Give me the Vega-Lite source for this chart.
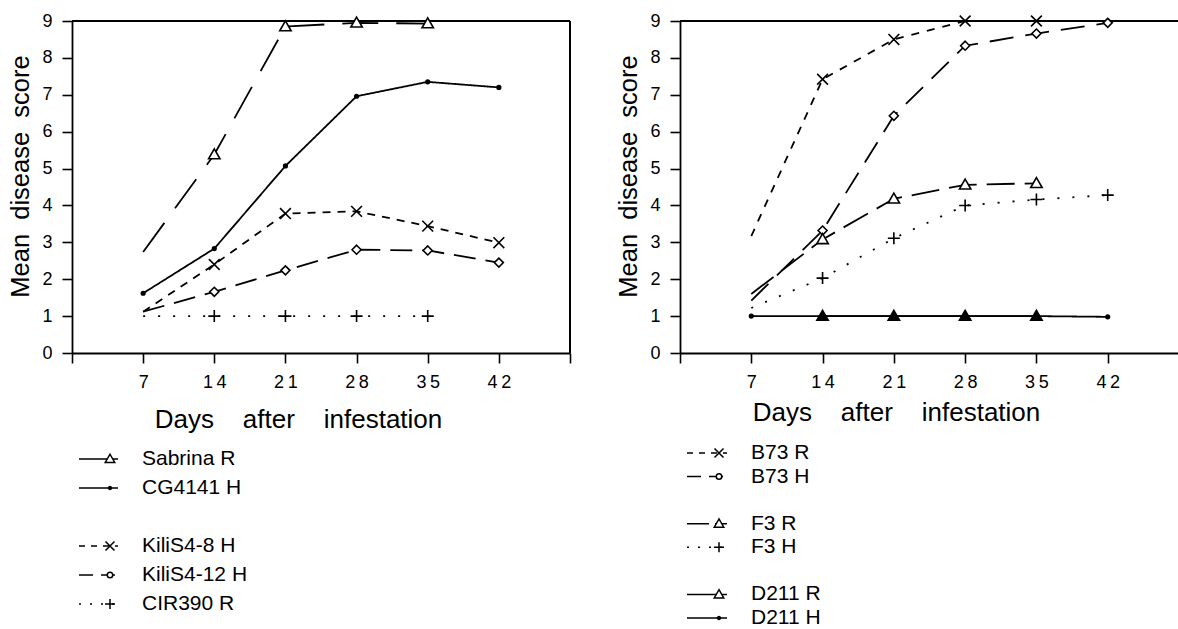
{
  "$schema": "https://vega.github.io/schema/vega-lite/v6.json",
  "padding": {"left": 8, "top": 12, "right": 0, "bottom": 0},
  "config": {
    "font": "Liberation Sans",
    "view": {"stroke": null},
    "axis": {
      "grid": false,
      "domainColor": "black",
      "domainWidth": 1.8,
      "tickColor": "black",
      "tickWidth": 1.6,
      "labelColor": "black",
      "titleColor": "black",
      "titleFontWeight": "normal",
      "labelFont": "Liberation Sans",
      "titleFont": "Liberation Sans"
    }
  },
  "resolve": {"scale": {"strokeDash": "independent", "shape": "independent", "fill": "independent"}},
  "datasets": {
    "left": [
      {"series": "Sabrina R", "day": 7, "score": 2.74},
      {"series": "Sabrina R", "day": 14, "score": 5.38},
      {"series": "Sabrina R", "day": 21, "score": 8.85},
      {"series": "Sabrina R", "day": 28, "score": 8.95},
      {"series": "Sabrina R", "day": 35, "score": 8.93},
      {"series": "CG4141 H", "day": 7, "score": 1.62},
      {"series": "CG4141 H", "day": 14, "score": 2.83},
      {"series": "CG4141 H", "day": 21, "score": 5.07},
      {"series": "CG4141 H", "day": 28, "score": 6.96},
      {"series": "CG4141 H", "day": 35, "score": 7.35},
      {"series": "CG4141 H", "day": 42, "score": 7.2},
      {"series": "KiliS4-8 H", "day": 7, "score": 1.12},
      {"series": "KiliS4-8 H", "day": 14, "score": 2.4},
      {"series": "KiliS4-8 H", "day": 21, "score": 3.78},
      {"series": "KiliS4-8 H", "day": 28, "score": 3.84},
      {"series": "KiliS4-8 H", "day": 35, "score": 3.44},
      {"series": "KiliS4-8 H", "day": 42, "score": 2.99},
      {"series": "KiliS4-12 H", "day": 7, "score": 1.12},
      {"series": "KiliS4-12 H", "day": 14, "score": 1.66},
      {"series": "KiliS4-12 H", "day": 21, "score": 2.24},
      {"series": "KiliS4-12 H", "day": 28, "score": 2.8},
      {"series": "KiliS4-12 H", "day": 35, "score": 2.78},
      {"series": "KiliS4-12 H", "day": 42, "score": 2.45},
      {"series": "CIR390 R", "day": 7, "score": 1.0},
      {"series": "CIR390 R", "day": 14, "score": 1.0},
      {"series": "CIR390 R", "day": 21, "score": 1.0},
      {"series": "CIR390 R", "day": 28, "score": 1.0},
      {"series": "CIR390 R", "day": 35, "score": 1.0}
    ],
    "right": [
      {"series": "B73 R", "day": 7, "score": 3.17},
      {"series": "B73 R", "day": 14, "score": 7.42},
      {"series": "B73 R", "day": 21, "score": 8.5},
      {"series": "B73 R", "day": 28, "score": 9.0},
      {"series": "B73 R", "day": 35, "score": 9.0},
      {"series": "B73 H", "day": 7, "score": 1.42},
      {"series": "B73 H", "day": 14, "score": 3.32},
      {"series": "B73 H", "day": 21, "score": 6.43},
      {"series": "B73 H", "day": 28, "score": 8.33},
      {"series": "B73 H", "day": 35, "score": 8.66},
      {"series": "B73 H", "day": 42, "score": 8.95},
      {"series": "F3 R", "day": 7, "score": 1.6},
      {"series": "F3 R", "day": 14, "score": 3.08},
      {"series": "F3 R", "day": 21, "score": 4.18},
      {"series": "F3 R", "day": 28, "score": 4.56},
      {"series": "F3 R", "day": 35, "score": 4.6},
      {"series": "F3 H", "day": 7, "score": 1.22},
      {"series": "F3 H", "day": 14, "score": 2.03},
      {"series": "F3 H", "day": 21, "score": 3.11},
      {"series": "F3 H", "day": 28, "score": 4.0},
      {"series": "F3 H", "day": 35, "score": 4.16},
      {"series": "F3 H", "day": 42, "score": 4.28},
      {"series": "D211 R", "day": 14, "score": 1.0},
      {"series": "D211 R", "day": 21, "score": 1.0},
      {"series": "D211 R", "day": 28, "score": 1.0},
      {"series": "D211 R", "day": 35, "score": 1.0},
      {"series": "D211 H", "day": 7, "score": 1.0},
      {"series": "D211 H", "day": 14, "score": 1.0},
      {"series": "D211 H", "day": 21, "score": 1.0},
      {"series": "D211 H", "day": 28, "score": 1.0},
      {"series": "D211 H", "day": 35, "score": 1.0},
      {"series": "D211 H", "day": 42, "score": 0.98}
    ]
  },
  "spacing": 45,
  "hconcat": [
    {
      "spacing": 16,
      "resolve": {"scale": {"strokeDash": "independent", "shape": "independent", "fill": "independent"}},
      "vconcat": [
        {
          "width": 498,
          "height": 332,
          "data": {"name": "left"},
          "layer": [
            {
              "mark": {"type": "rule", "color": "black", "strokeWidth": 1.8},
              "encoding": {"y": {"datum": 9, "type": "quantitative"}}
            },
            {
              "mark": {"type": "rule", "color": "black", "strokeWidth": 1.8},
              "encoding": {"x": {"datum": 49, "type": "quantitative"}}
            },
            {
              "mark": {"type": "line", "color": "black", "strokeWidth": 1.8},
              "encoding": {
                "x": {
                  "field": "day", "type": "quantitative",
                  "scale": {"domain": [0, 49], "nice": false, "zero": false},
                  "axis": {
                    "values": [0, 7, 14, 21, 28, 35, 42, 49],
                    "tickCount": 40,
                    "format": "d",
                    "labelExpr": "datum.value == 0 || datum.value == 49 ? '' : join(split(datum.label, ''), '\u2009')",
                    "labelOverlap": false,
                    "tickSize": 10,
                    "labelPadding": 10,
                    "labelFontSize": 18,
                    "title": "Days\u00a0\u00a0\u00a0\u00a0after\u00a0\u00a0\u00a0\u00a0infestation",
                    "titleFontSize": 26,
                    "titlePadding": 15,
                    "titleX": 226
                  }
                },
                "y": {
                  "field": "score", "type": "quantitative",
                  "scale": {"domain": [0, 9], "nice": false},
                  "axis": {
                    "values": [0, 0.5, 1, 1.5, 2, 2.5, 3, 3.5, 4, 4.5, 5, 5.5, 6, 6.5, 7, 7.5, 8, 8.5, 9],
                    "tickCount": 40,
                    "format": "d",
                    "labelExpr": "datum.value % 1 == 0 ? datum.label : ''",
                    "labelOverlap": false,
                    "tickSize": {"condition": {"test": "datum.value % 1 == 0", "value": 10}, "value": 5},
                    "labelPadding": 10,
                    "labelFontSize": 18,
                    "title": "Mean\u00a0\u00a0disease\u00a0\u00a0score",
                    "titleFontSize": 25.5,
                    "titlePadding": 8,
                    "titleY": 155
                  }
                },
                "detail": {"field": "series"},
                "strokeDash": {
                  "field": "series", "type": "nominal", "legend": null,
                  "scale": {
                    "domain": ["Sabrina R", "CG4141 H", "KiliS4-8 H", "KiliS4-12 H", "CIR390 R"],
                    "range": [[36, 18], [1, 0], [8, 7], [22, 10], [2, 13]]
                  }
                }
              }
            },
            {
              "transform": [{"filter": "datum.day > 7 || datum.series == 'CG4141 H'"}],
              "mark": {"type": "point", "stroke": "black", "strokeWidth": 1.6, "opacity": 1, "size": 144},
              "encoding": {
                "x": {"field": "day", "type": "quantitative"},
                "y": {"field": "score", "type": "quantitative"},
                "shape": {
                  "field": "series", "type": "nominal", "legend": null,
                  "scale": {
                    "domain": ["Sabrina R", "CG4141 H", "KiliS4-8 H", "KiliS4-12 H", "CIR390 R"],
                    "range": [
                      "M0,-0.95L0.95,0.7L-0.95,0.7Z",
                      "M-0.3,0A0.3,0.3 0 1,0 0.3,0A0.3,0.3 0 1,0 -0.3,0Z",
                      "M-0.9,-0.9L0.9,0.9M-0.9,0.9L0.9,-0.9",
                      "M0,-0.75L0.75,0L0,0.75L-0.75,0Z",
                      "M-1,0L1,0M0,-1L0,1"
                    ]
                  }
                },
                "fill": {
                  "field": "series", "type": "nominal", "legend": null,
                  "scale": {
                    "domain": ["Sabrina R", "CG4141 H", "KiliS4-8 H", "KiliS4-12 H", "CIR390 R"],
                    "range": ["white", "black", "white", "white", "white"]
                  }
                }
              }
            }
          ]
        },
        {
          "width": 400,
          "height": 145,
          "data": {"name": "left"},
          "transform": [{"aggregate": [{"op": "count", "as": "n"}], "groupby": ["series"]}],
          "encoding": {
            "y": {
              "field": "series", "type": "nominal", "axis": null,
              "scale": {"type": "point", "padding": 0, "domain": ["Sabrina R", "CG4141 H", " ", "KiliS4-8 H", "KiliS4-12 H", "CIR390 R"]}
            }
          },
          "layer": [
            {
              "mark": {"type": "rule", "color": "black", "strokeWidth": 1.6},
              "encoding": {
                "x": {"datum": 0.175, "type": "quantitative", "axis": null, "scale": {"domain": [0, 10], "nice": false}},
                "x2": {"datum": 1.15},
                "strokeDash": {
                  "field": "series", "type": "nominal", "legend": null,
                  "scale": {
                    "domain": ["Sabrina R", "CG4141 H", "KiliS4-8 H", "KiliS4-12 H", "CIR390 R"],
                    "range": [[1, 0], [1, 0], [6, 6], [14, 8], [2, 9]]
                  }
                }
              }
            },
            {
              "mark": {"type": "point", "stroke": "black", "strokeWidth": 1.5, "opacity": 1, "size": 100},
              "encoding": {
                "x": {"datum": 0.95, "type": "quantitative"},
                "shape": {
                  "field": "series", "type": "nominal", "legend": null,
                  "scale": {
                    "domain": ["Sabrina R", "CG4141 H", "KiliS4-8 H", "KiliS4-12 H", "CIR390 R"],
                    "range": [
                      "M0,-0.95L0.95,0.7L-0.95,0.7Z",
                      "M-0.3,0A0.3,0.3 0 1,0 0.3,0A0.3,0.3 0 1,0 -0.3,0Z",
                      "M-0.9,-0.9L0.9,0.9M-0.9,0.9L0.9,-0.9",
                      "M-0.55,0A0.55,0.55 0 1,0 0.55,0A0.55,0.55 0 1,0 -0.55,0Z",
                      "M-1,0L1,0M0,-1L0,1"
                    ]
                  }
                },
                "fill": {
                  "field": "series", "type": "nominal", "legend": null,
                  "scale": {
                    "domain": ["Sabrina R", "CG4141 H", "KiliS4-8 H", "KiliS4-12 H", "CIR390 R"],
                    "range": ["white", "black", "white", "white", "white"]
                  }
                }
              }
            },
            {
              "mark": {"type": "text", "align": "left", "baseline": "middle", "fontSize": 21, "color": "black"},
              "encoding": {
                "x": {"datum": 1.75, "type": "quantitative"},
                "text": {"field": "series"}
              }
            }
          ]
        }
      ]
    },
    {
      "spacing": 17,
      "resolve": {"scale": {"strokeDash": "independent", "shape": "independent", "fill": "independent"}},
      "vconcat": [
        {
          "width": 499,
          "height": 332,
          "data": {"name": "right"},
          "layer": [
            {
              "mark": {"type": "rule", "color": "black", "strokeWidth": 1.8},
              "encoding": {"y": {"datum": 9, "type": "quantitative"}}
            },
            {
              "mark": {"type": "line", "color": "black", "strokeWidth": 1.8},
              "encoding": {
                "x": {
                  "field": "day", "type": "quantitative",
                  "scale": {"domain": [0, 49], "nice": false, "zero": false},
                  "axis": {
                    "values": [0, 7, 14, 21, 28, 35, 42],
                    "tickCount": 40,
                    "format": "d",
                    "labelExpr": "datum.value == 0 ? '' : join(split(datum.label, ''), '\u2009')",
                    "labelOverlap": false,
                    "tickSize": 10,
                    "labelPadding": 10,
                    "labelFontSize": 18,
                    "title": "Days\u00a0\u00a0\u00a0\u00a0after\u00a0\u00a0\u00a0\u00a0infestation",
                    "titleFontSize": 26,
                    "titlePadding": 8,
                    "titleX": 216
                  }
                },
                "y": {
                  "field": "score", "type": "quantitative",
                  "scale": {"domain": [0, 9], "nice": false},
                  "axis": {
                    "values": [0, 0.5, 1, 1.5, 2, 2.5, 3, 3.5, 4, 4.5, 5, 5.5, 6, 6.5, 7, 7.5, 8, 8.5, 9],
                    "tickCount": 40,
                    "format": "d",
                    "labelExpr": "datum.value % 1 == 0 ? datum.label : ''",
                    "labelOverlap": false,
                    "tickSize": {"condition": {"test": "datum.value % 1 == 0", "value": 10}, "value": 5},
                    "labelPadding": 10,
                    "labelFontSize": 18,
                    "title": "Mean\u00a0\u00a0disease\u00a0\u00a0score",
                    "titleFontSize": 25.5,
                    "titlePadding": 8,
                    "titleY": 155
                  }
                },
                "detail": {"field": "series"},
                "strokeDash": {
                  "field": "series", "type": "nominal", "legend": null,
                  "scale": {
                    "domain": ["B73 R", "B73 H", "F3 R", "F3 H", "D211 R", "D211 H"],
                    "range": [[8, 8], [24, 12], [28, 10], [2, 13], [1, 0], [1, 0]]
                  }
                }
              }
            },
            {
              "transform": [{"filter": "datum.day > 7 || datum.series == 'D211 H'"}],
              "mark": {"type": "point", "stroke": "black", "strokeWidth": 1.6, "opacity": 1, "size": 144},
              "encoding": {
                "x": {"field": "day", "type": "quantitative"},
                "y": {"field": "score", "type": "quantitative"},
                "shape": {
                  "field": "series", "type": "nominal", "legend": null,
                  "scale": {
                    "domain": ["B73 R", "B73 H", "F3 R", "F3 H", "D211 R", "D211 H"],
                    "range": [
                      "M-0.9,-0.9L0.9,0.9M-0.9,0.9L0.9,-0.9",
                      "M0,-0.75L0.75,0L0,0.75L-0.75,0Z",
                      "M0,-0.95L0.95,0.7L-0.95,0.7Z",
                      "M-1,0L1,0M0,-1L0,1",
                      "M0,-0.95L0.95,0.7L-0.95,0.7Z",
                      "M-0.3,0A0.3,0.3 0 1,0 0.3,0A0.3,0.3 0 1,0 -0.3,0Z"
                    ]
                  }
                },
                "fill": {
                  "field": "series", "type": "nominal", "legend": null,
                  "scale": {
                    "domain": ["B73 R", "B73 H", "F3 R", "F3 H", "D211 R", "D211 H"],
                    "range": ["white", "white", "white", "white", "black", "black"]
                  }
                }
              }
            }
          ]
        },
        {
          "width": 400,
          "height": 165,
          "data": {"name": "right"},
          "transform": [{"aggregate": [{"op": "count", "as": "n"}], "groupby": ["series"]}],
          "encoding": {
            "y": {
              "field": "series", "type": "nominal", "axis": null,
              "scale": {"type": "point", "padding": 0, "domain": ["B73 R", "B73 H", " ", "F3 R", "F3 H", "  ", "D211 R", "D211 H"]}
            }
          },
          "layer": [
            {
              "mark": {"type": "rule", "color": "black", "strokeWidth": 1.6},
              "encoding": {
                "x": {"datum": 0.175, "type": "quantitative", "axis": null, "scale": {"domain": [0, 10], "nice": false}},
                "x2": {"datum": 1.175},
                "strokeDash": {
                  "field": "series", "type": "nominal", "legend": null,
                  "scale": {
                    "domain": ["B73 R", "B73 H", "F3 R", "F3 H", "D211 R", "D211 H"],
                    "range": [[6, 6], [14, 8], [22, 6], [2, 9], [1, 0], [1, 0]]
                  }
                }
              }
            },
            {
              "mark": {"type": "point", "stroke": "black", "strokeWidth": 1.5, "opacity": 1, "size": 100},
              "encoding": {
                "x": {"datum": 0.975, "type": "quantitative"},
                "shape": {
                  "field": "series", "type": "nominal", "legend": null,
                  "scale": {
                    "domain": ["B73 R", "B73 H", "F3 R", "F3 H", "D211 R", "D211 H"],
                    "range": [
                      "M-0.9,-0.9L0.9,0.9M-0.9,0.9L0.9,-0.9",
                      "M-0.55,0A0.55,0.55 0 1,0 0.55,0A0.55,0.55 0 1,0 -0.55,0Z",
                      "M0,-0.95L0.95,0.7L-0.95,0.7Z",
                      "M-1,0L1,0M0,-1L0,1",
                      "M0,-0.95L0.95,0.7L-0.95,0.7Z",
                      "M-0.3,0A0.3,0.3 0 1,0 0.3,0A0.3,0.3 0 1,0 -0.3,0Z"
                    ]
                  }
                },
                "fill": {
                  "field": "series", "type": "nominal", "legend": null,
                  "scale": {
                    "domain": ["B73 R", "B73 H", "F3 R", "F3 H", "D211 R", "D211 H"],
                    "range": ["white", "white", "white", "white", "white", "black"]
                  }
                }
              }
            },
            {
              "mark": {"type": "text", "align": "left", "baseline": "middle", "fontSize": 21, "color": "black"},
              "encoding": {
                "x": {"datum": 1.775, "type": "quantitative"},
                "text": {"field": "series"}
              }
            }
          ]
        }
      ]
    }
  ]
}
